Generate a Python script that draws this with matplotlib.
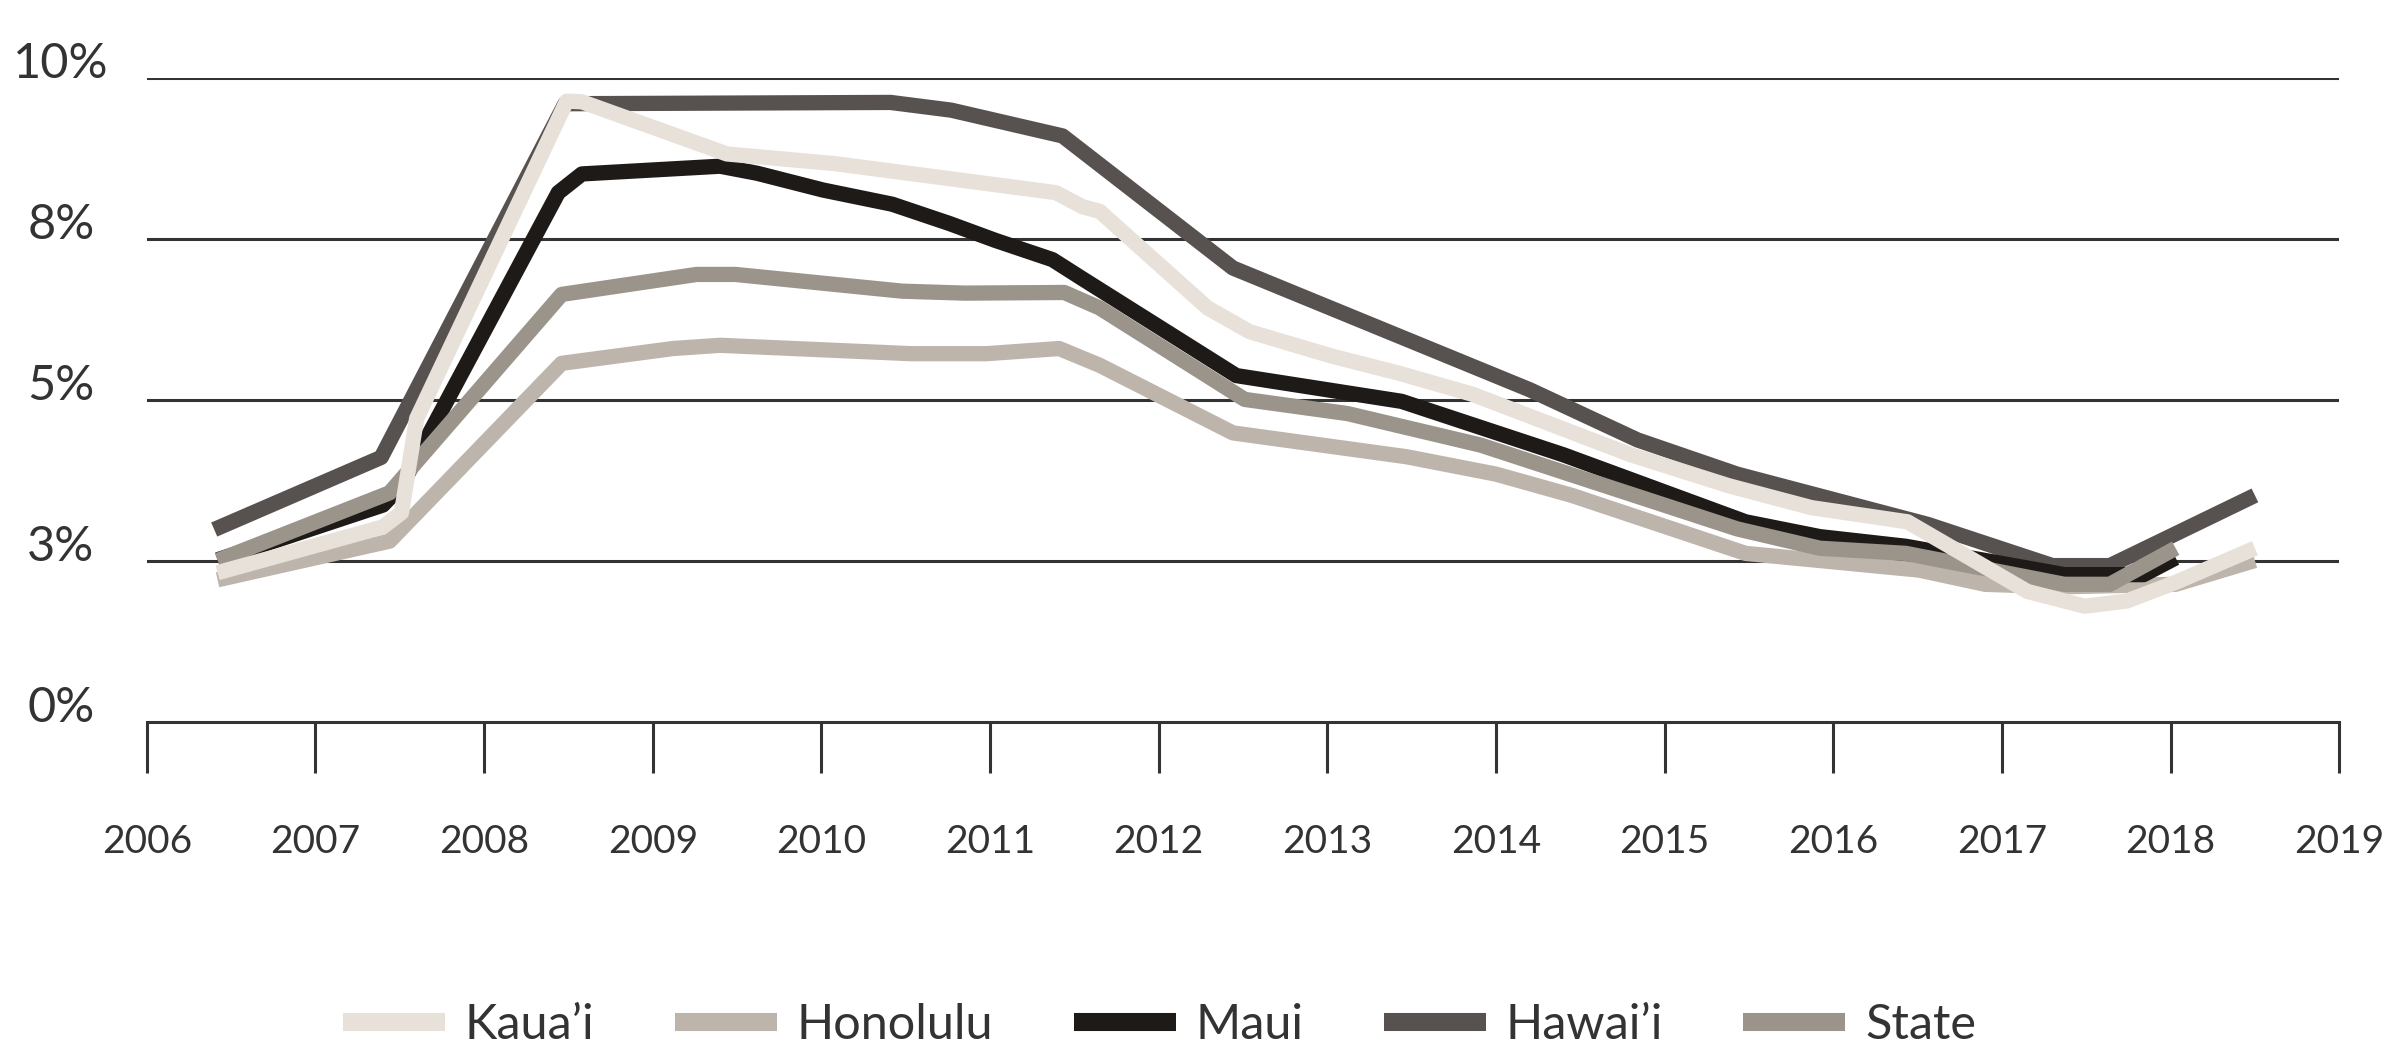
import matplotlib.pyplot as plt
from matplotlib.lines import Line2D

plt.rcParams['font.family'] = ['Lato', 'DejaVu Sans']

# (decimal year, unemployment %)
kauai_x = [2006.42, 2007.40, 2007.51, 2007.60, 2008.49, 2008.58, 2009.44, 2010.08, 2011.39, 2011.55,
           2011.65, 2012.29, 2012.54, 2013.03, 2013.42, 2013.86, 2014.80, 2015.38, 2015.87, 2016.44,
           2017.15, 2017.49, 2017.74, 2018.03, 2018.50]
kauai_y = [2.32, 3.03, 3.25, 4.71, 9.64, 9.63, 8.82, 8.67, 8.22, 8.00,
           7.93, 6.43, 6.06, 5.68, 5.42, 5.09, 4.15, 3.67, 3.33, 3.11,
           2.03, 1.80, 1.88, 2.17, 2.70]

honolulu_x = [2006.42, 2007.44, 2008.46, 2009.12, 2009.40, 2010.53, 2010.98, 2011.41, 2011.65, 2012.44,
              2013.47, 2014.00, 2014.45, 2015.48, 2016.51, 2016.90, 2017.34, 2018.03, 2018.50]
honolulu_y = [2.21, 2.81, 5.57, 5.80, 5.85, 5.72, 5.72, 5.80, 5.54, 4.49,
              4.12, 3.85, 3.52, 2.62, 2.36, 2.14, 2.10, 2.14, 2.51]

maui_x = [2006.42, 2007.40, 2007.51, 2008.44, 2008.58, 2009.40, 2009.62, 2010.01, 2010.42, 2010.76,
          2011.03, 2011.37, 2011.55, 2012.46, 2013.44, 2014.40, 2015.48, 2015.92, 2016.43, 2017.37,
          2017.84, 2018.03]
maui_y = [2.52, 3.37, 3.67, 8.22, 8.51, 8.63, 8.52, 8.26, 8.04, 7.74,
          7.48, 7.18, 6.88, 5.38, 4.98, 4.15, 3.11, 2.88, 2.73, 2.29,
          2.29, 2.55]

hawaii_x = [2006.40, 2007.39, 2008.48, 2010.41, 2010.77, 2011.43, 2012.44, 2014.20, 2014.84, 2015.43,
            2016.56, 2017.30, 2017.64, 2018.50]
hawaii_y = [2.99, 4.11, 9.60, 9.62, 9.50, 9.10, 7.05, 5.16, 4.38, 3.85,
            3.07, 2.43, 2.43, 3.52]

state_x = [2006.42, 2007.44, 2008.46, 2009.26, 2009.49, 2010.48, 2010.85, 2011.44, 2011.65, 2012.51,
           2013.12, 2013.91, 2015.43, 2015.92, 2016.43, 2017.37, 2017.64, 2018.03]
state_y = [2.51, 3.56, 6.64, 6.95, 6.95, 6.69, 6.66, 6.67, 6.43, 5.01,
           4.79, 4.30, 3.00, 2.70, 2.62, 2.14, 2.14, 2.70]

years = list(range(2006, 2020))
y_ticks = [2.5, 5, 7.5, 10]
y_labels = ['0%', '3%', '5%', '8%', '10%']
y_label_pos = [0, 2.5, 5, 7.5, 10]

names = ['Kaua\u2019i', 'Honolulu', 'Maui', 'Hawai\u2019i', 'State']
colors = ['#e8e1d9', '#bdb5ab', '#1e1a18', '#575250', '#9a948a']

fig = plt.figure(figsize=(23.98, 10.62), dpi=100)
ax = fig.add_axes([0.0612, 0.320, 0.9143, 0.6066])

lw = 11
ax.plot(honolulu_x, honolulu_y, color=colors[1], lw=lw, solid_capstyle='butt', zorder=3)
ax.plot(hawaii_x, hawaii_y, color=colors[3], lw=lw, solid_capstyle='butt', zorder=4)
ax.plot(maui_x, maui_y, color=colors[2], lw=lw, solid_capstyle='butt', zorder=5)
ax.plot(state_x, state_y, color=colors[4], lw=lw, solid_capstyle='butt', zorder=6)
ax.plot(kauai_x, kauai_y, color=colors[0], lw=lw, solid_capstyle='butt', zorder=7)

ax.set_xlim(2006, 2019)
ax.set_ylim(0, 10)

for v in y_ticks:
    ax.axhline(v, color='#333333', lw=2.2, zorder=1)

for v, lab in zip(y_label_pos, y_labels):
    ax.text(-0.0392, v, lab, transform=ax.get_yaxis_transform(), ha='center', va='baseline',
            fontsize=35, color='#333333')

ax.set_yticks([])
for s in ['left', 'top', 'right']:
    ax.spines[s].set_visible(False)
ax.spines['bottom'].set_color('#333333')
ax.spines['bottom'].set_linewidth(2.2)

ax.set_xticks(years)
ax.set_xticklabels([str(y) for y in years])
ax.tick_params(axis='x', direction='out', length=37, width=2.2, color='#333333',
               pad=36, labelsize=28, labelcolor='#333333')

handles = [Line2D([0], [0], color=c, lw=13, solid_capstyle='butt') for c in colors]
fig.legend(handles, names, loc='center', bbox_to_anchor=(0.4835, 0.035), ncol=5, frameon=False,
           fontsize=35, handlelength=2.1, handletextpad=0.4, columnspacing=1.66,
           borderpad=0, labelcolor='#333333')

fig.savefig('out.png', dpi=100, facecolor='white')
